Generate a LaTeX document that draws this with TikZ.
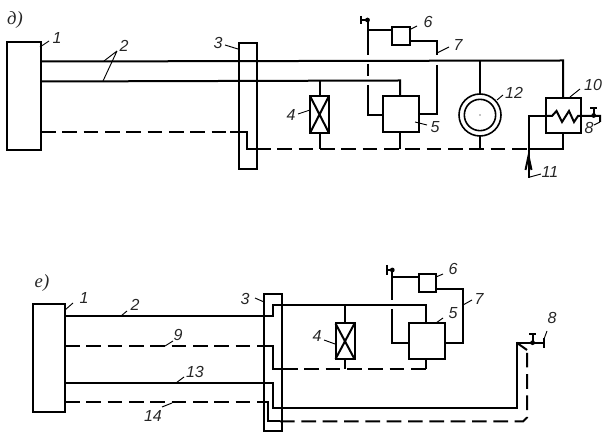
\documentclass[tikz,border=0pt]{standalone}
\usepackage{fontspec}
\setmainfont{Liberation Sans}
\newfontfamily\capfont{Liberation Serif}
\tikzset{
  wire/.style={line width=1.5pt, line cap=butt, line join=miter},
  dash wire/.style={line width=1.5pt, dash pattern=on 11pt off 5pt},
  block/.style={draw, line width=1.5pt, fill=none},
  lead/.style={line width=0.7pt},
  lab/.style={font=\itshape\fontsize{12}{12}\selectfont, inner sep=0pt, text=black!85},
  captxt/.style={font=\capfont\itshape\fontsize{14}{14}\selectfont, inner sep=0pt, text=black!85},
  pipedot/.style={circle, fill=black, inner sep=0pt, minimum size=3.6pt}
}
\newcommand{\bx}[5]{\draw[block] (#2,#4) rectangle (#3,#5); \coordinate (#1) at ({(#2+#3)/2},{(#4+#5)/2});}
\begin{document}
\begin{tikzpicture}[x=0.75pt,y=-0.75pt]
\useasboundingbox (0,0) rectangle (614,448);
% ----- top diagram
\bx{a1}{6.5}{40.5}{42.5}{150}
\bx{a3}{238.5}{256.5}{43.5}{169}
\bx{a4}{310}{329}{96}{133}
\draw[wire] (310,96) -- (329,133) (329,96) -- (310,133);
\bx{a5}{383}{419}{96.5}{132.5}
\bx{a6}{392}{409.5}{27}{45.5}
\bx{a10}{545.5}{581}{98}{133}
\node[circle, draw, line width=1.2pt, minimum size=31.5pt, inner sep=0pt] (a12) at (480,115) {};
\node[circle, draw, line width=1.2pt, minimum size=23.5pt, inner sep=0pt] (a12i) at (480,115) {};
\fill (480,115) circle (0.5pt);
\draw[wire] (40.5,61.5) -- (563,60.5) -- (563,98);
\draw[wire] (40.5,81.5) -- (400,80.5) -- (400,96.5);
\draw[wire] (319.5,80.5) -- (319.5,96) (319.5,133) -- (319.5,149.5);
\draw[wire] (480,60.5) -- (480,94) (480,136) -- (480,149.5);
\draw[wire] (400,132.5) -- (400,149.5);
\draw[dash wire] (41,132) -- (238,132);
\draw[wire] (230,132) -- (247,132) -- (247,149.5) -- (256,149.5);
\draw[dash wire] (256,149.5) -- (528,149.5);
\draw[wire] (528,149.5) -- (563,149.5) -- (563,133);
% feed 5/6
\draw[wire] (361,16) -- (361,24) (361,20) -- (367.5,20) -- (367.5,55);
\node[pipedot] (av) at (367.5,20) {};
\draw[wire] (367.5,64) -- (367.5,76);
\draw[wire] (367.5,85) -- (367.5,115) -- (383,115);
\draw[wire] (367.5,30) -- (392,30);
\draw[wire] (409.5,41) -- (436.5,41) -- (436.5,55);
\draw[wire] (436.5,65) -- (436.5,114) -- (419,114);
% heat exchanger
\draw[wire] (528.5,178) -- (528.5,116) -- (545.5,116);
\draw[wire] (545.5,116) -- (552,116) -- (556.5,111) -- (562,122) -- (569,111) -- (574,122) -- (578,116) -- (581,116) -- (600,116) -- (600,122);
\draw[wire] (590,108) -- (597,108) (593.7,108) -- (593.7,116);
\node[pipedot] (ah) at (593.7,115.5) {};
\draw[wire] (525.5,170) -- (528.5,156) -- (531.5,170);
% top labels
\node[captxt] (lcap) at (15,20) {д)};
\node[lab] (l1) at (57,38) {1};
\draw[lead] (40,47) -- (49,41);
\node[lab] (l2) at (124,46) {2};
\draw[lead] (117,51) -- (104,61) (117,51) -- (103,81);
\node[lab] (l3) at (218,43) {3};
\draw[lead] (225,45) -- (238,49);
\node[lab] (l4) at (291,115) {4};
\draw[lead] (298,114) -- (310,110);
\node[lab] (l5) at (435,127) {5};
\draw[lead] (415,122) -- (427,125);
\node[lab] (l6) at (428,22) {6};
\draw[lead] (409,30) -- (417,26);
\node[lab] (l7) at (458,45) {7};
\draw[lead] (437,53) -- (449,47);
\node[lab] (l8) at (589,128) {8};
\draw[lead] (600,122) -- (594,125);
\node[lab] (l10) at (593,85) {10};
\draw[lead] (570,97) -- (580,89);
\node[lab] (l11) at (550,172) {11};
\draw[lead] (530,177) -- (541,174);
\node[lab] (l12) at (514,93) {12};
\draw[lead] (497,100) -- (503,95);
% ----- bottom diagram
\bx{b1}{32.5}{65}{304}{412}
\bx{b3}{264}{281.5}{294.5}{431}
\bx{b4}{335.5}{354.5}{323.5}{359}
\draw[wire] (335.5,323.5) -- (354.5,359) (354.5,323.5) -- (335.5,359);
\bx{b5}{409}{445}{323}{359}
\bx{b6}{418.5}{436}{274.5}{292.5}
\draw[wire] (65,315.7) -- (273,315.7) -- (273,305) -- (426,305) -- (426,323);
\draw[wire] (345,305) -- (345,323.5) (345,359) -- (345,369.5);
\draw[dash wire] (65,345.7) -- (264,345.7);
\draw[wire] (258,345.7) -- (272.5,345.7) -- (272.5,369.5) -- (283,369.5);
\draw[dash wire] (283,369.5) -- (426,369.5);
\draw[wire] (426,369.5) -- (426,359);
\draw[wire] (65,383) -- (273,383) -- (273,408.5) -- (516.7,408.5) -- (516.7,342.7) -- (544,342.7);
\draw[wire] (544,338) -- (544,348);
\draw[dash wire] (65,401.7) -- (262,401.7);
\draw[wire] (262,401.7) -- (268,401.7) -- (268,421.5) -- (280,421.5);
\draw[dash wire] (280,421.5) -- (523,421.5) -- (527,417.5) -- (527,353);
\draw[wire] (516.7,342.7) -- (527,350);
\draw[wire] (529,334.5) -- (536,334.5) (532.6,334.5) -- (532.6,342.7);
\node[pipedot] (bh) at (532.6,342.7) {};
\draw[wire] (386.7,265) -- (386.7,275) (386.7,270) -- (392.3,270) -- (392.3,300);
\node[pipedot] (bv) at (392.3,270) {};
\draw[wire] (392.3,309) -- (392.3,343.5) -- (409,343.5);
\draw[wire] (392.3,277.5) -- (418.5,277.5);
\draw[wire] (436,289) -- (463,289) -- (463,343) -- (445,343);
% bottom labels
\node[captxt] (mcap) at (42,283) {е)};
\node[lab] (m1) at (84,298) {1};
\draw[lead] (65,310) -- (73,303);
\node[lab] (m2) at (135,305) {2};
\draw[lead] (121,316) -- (127,311);
\node[lab] (m3) at (245,299) {3};
\draw[lead] (255,298) -- (264,302);
\node[lab] (m4) at (317,336) {4};
\draw[lead] (324,340) -- (335,344);
\node[lab] (m5) at (453,313) {5};
\draw[lead] (436,323) -- (443,318);
\node[lab] (m6) at (453,269) {6};
\draw[lead] (436,277) -- (443,274);
\node[lab] (m7) at (479,299) {7};
\draw[lead] (463,305) -- (472,300);
\node[lab] (m8) at (552,318) {8};
\draw[lead] (544,339) -- (547,331);
\node[lab] (m9) at (178,335) {9};
\draw[lead] (165,346) -- (173,341);
\node[lab] (m13) at (195,372) {13};
\draw[lead] (176,383) -- (184,377);
\node[lab] (m14) at (153,416) {14};
\draw[lead] (162,407) -- (172,403);
\end{tikzpicture}
\end{document}
